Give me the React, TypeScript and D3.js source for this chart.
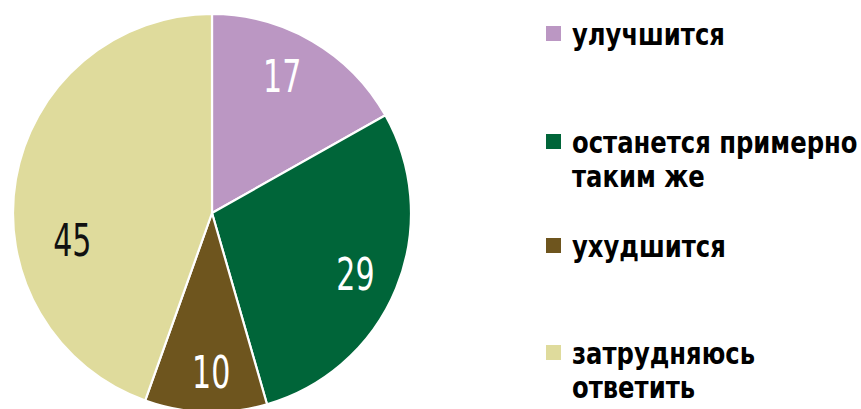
import React from "react";
import * as d3 from "d3";

const categories = ["улучшится", "останется примерно таким же", "ухудшится", "затрудняюсь ответить"];
const values = [17, 29, 10, 45];
const colors = ["#BB97C3", "#006539", "#6E551E", "#DFDB9C"];
const labelColors = ["#ffffff", "#ffffff", "#ffffff", "#111111"];
const legendLines = [["улучшится"], ["останется примерно", "таким же"], ["ухудшится"], ["затрудняюсь", "ответить"]];

export default function App() {
  const W = 861, H = 409;
  const cx = 212, cy = 213, r = 199;
  const legendBaselines = [45, 153, 257, 364];
  const labelNudge: [number, number][] = [[-8, -3], [0, 2], [4, 4], [13, 54]];
  const pie = d3.pie<number>().sort(null).value((d) => d)(values);
  const arc = d3.arc<d3.PieArcDatum<number>>().innerRadius(0).outerRadius(r);
  const labelArc = d3.arc<d3.PieArcDatum<number>>().innerRadius(155).outerRadius(155);
  const font = "'Liberation Sans Narrow', 'DejaVu Sans Condensed', sans-serif";
  return (
    <svg width={W} height={H} style={{ position: "absolute", left: 0, top: 0, background: "#fff" }}>
      <g transform={`translate(${cx},${cy})`}>
        {pie.map((p, i) => (
          <path key={i} d={arc(p) || ""} fill={colors[i]} stroke="#fff" strokeWidth={2.2} strokeLinejoin="round" />
        ))}
        {pie.map((p, i) => {
          const [x, y] = labelArc.centroid(p);
          return (
            <text key={"l" + i}
              transform={`translate(${x + labelNudge[i][0]},${y + labelNudge[i][1]}) scale(0.76,1)`}
              dy="0.36em" textAnchor="middle" fill={labelColors[i]}
              fontFamily={font} fontSize={44} style={{ fontStretch: "condensed" }}>
              {values[i]}
            </text>
          );
        })}
      </g>
      <g transform="translate(572,0) scale(0.9,1)">
        {categories.map((c, i) => (
          <g key={c}>
            <rect x={(546 - 572) / 0.9} y={legendBaselines[i] - 19} width={15 / 0.9} height={15} fill={colors[i]} />
            <text x={0} y={legendBaselines[i]} fontFamily={font} fontWeight="bold" fontSize={30}
              fill="#000" style={{ fontStretch: "condensed" }}>
              {legendLines[i].map((t, j) => (
                <tspan key={j} x={0} dy={j === 0 ? 0 : 34}>{t}</tspan>
              ))}
            </text>
          </g>
        ))}
      </g>
    </svg>
  );
}
